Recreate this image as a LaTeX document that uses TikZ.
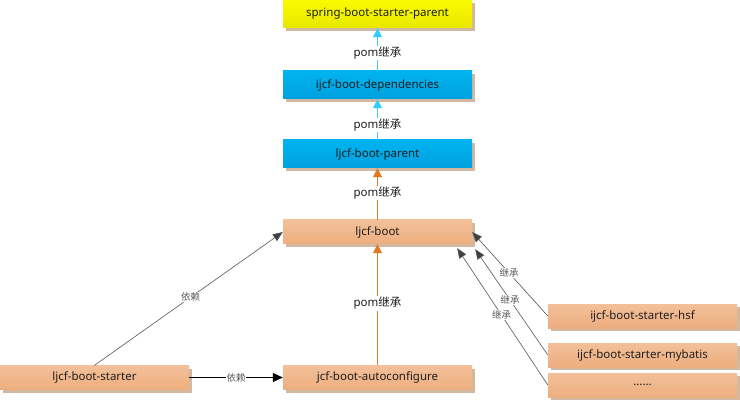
\documentclass[tikz,border=0pt]{standalone}
\usepackage{fontspec}
\setmainfont{Noto Sans}
\newfontfamily\cjk{Noto Sans CJK SC}
\usetikzlibrary{arrows.meta,shadows}
\definecolor{shadowc}{HTML}{D2B8A0}
\definecolor{yelT}{HTML}{FAFA00}
\definecolor{yelB}{HTML}{E8E800}
\definecolor{bluT}{HTML}{00B4F0}
\definecolor{bluB}{HTML}{00A0DE}
\definecolor{peaT}{HTML}{F3C09A}
\definecolor{peaB}{HTML}{EDAE7E}
\definecolor{cyanline}{HTML}{33CCFF}
\definecolor{orangeline}{HTML}{E07A22}
\definecolor{grayline}{HTML}{555555}
\definecolor{graytip}{HTML}{404040}
\begin{document}
\begin{tikzpicture}[x=1pt,y=-1pt,
  box/.style={rectangle, minimum width=189pt, minimum height=24pt, inner sep=0pt,
    font=\fontsize{11.5}{13}\selectfont, text=black!88,
    drop shadow={shadow xshift=3pt, shadow yshift=-3pt, fill=shadowc, opacity=1}},
  yellowbox/.style={box, minimum height=28pt, top color=yelT, bottom color=yelB},
  bluebox/.style={box, minimum height=28pt, top color=bluT, bottom color=bluB},
  peachbox/.style={box, top color=peaT, bottom color=peaB},
  cyanarrow/.style={draw=cyanline, line width=0.8pt, -{Triangle[length=9pt,width=9pt]}},
  orangearrow/.style={draw=orangeline, line width=0.8pt, -{Triangle[length=9pt,width=9pt]}},
  grayarrow/.style={draw=grayline, line width=0.6pt, -{Triangle[length=10pt,width=8pt,fill=graytip]}},
  blackarrow/.style={draw=black, line width=0.8pt, -{Triangle[length=10pt,width=9pt]}},
  pomlabel/.style={fill=white, inner sep=1pt, font=\fontsize{11.5}{13}\selectfont, text=black!88},
  smalllabel/.style={fill=white, inner sep=0.5pt, font=\cjk\fontsize{9.5}{11}\selectfont, text=black!65}
]
\useasboundingbox (0,0) rectangle (740,401);

\node[yellowbox] (spring) at (377.5,14) {spring-boot-starter-parent};
\node[bluebox] (deps) at (377.5,85) {ijcf-boot-dependencies};
\node[bluebox] (parent) at (377.5,154) {ljcf-boot-parent};
\node[peachbox] (boot) at (377.5,232) {ljcf-boot};
\node[peachbox] (auto) at (377.5,377.5) {jcf-boot-autoconfigure};
\node[peachbox] (starter) at (94.5,377.5) {ljcf-boot-starter};
\node[peachbox] (hsf) at (642.5,316) {ijcf-boot-starter-hsf};
\node[peachbox] (mybatis) at (642.5,355) {ijcf-boot-starter-mybatis};
\node[peachbox] (dots) at (642.5,385) {......};

\draw[cyanarrow] (deps.north) -- node[pomlabel, pos=0.42] {pom{\cjk 继承}} (spring.south);
\draw[cyanarrow] (parent.north) -- node[pomlabel, pos=0.37] {pom{\cjk 继承}} (deps.south);
\draw[orangearrow] (boot.north) -- node[pomlabel, pos=0.52] {pom{\cjk 继承}} (parent.south);
\draw[orangearrow] (auto.north) -- node[pomlabel, pos=0.51] {pom{\cjk 继承}} (boot.south);

\draw[grayarrow] (starter.north) -- node[smalllabel, pos=0.51] {依赖} (boot.west);
\draw[blackarrow] (starter.east) -- node[smalllabel, pos=0.5] {依赖} (auto.west);

\draw[grayarrow] (hsf.west) -- node[smalllabel, pos=0.51] {继承} (boot.east);
\draw[grayarrow] (mybatis.west) -- node[smalllabel, pos=0.52] {继承} ([xshift=3pt,yshift=-5pt]boot.south east);
\draw[grayarrow] (dots.west) -- node[smalllabel, pos=0.51] {继承} ([xshift=-15pt,yshift=-4pt]boot.south east);
\end{tikzpicture}
\end{document}
